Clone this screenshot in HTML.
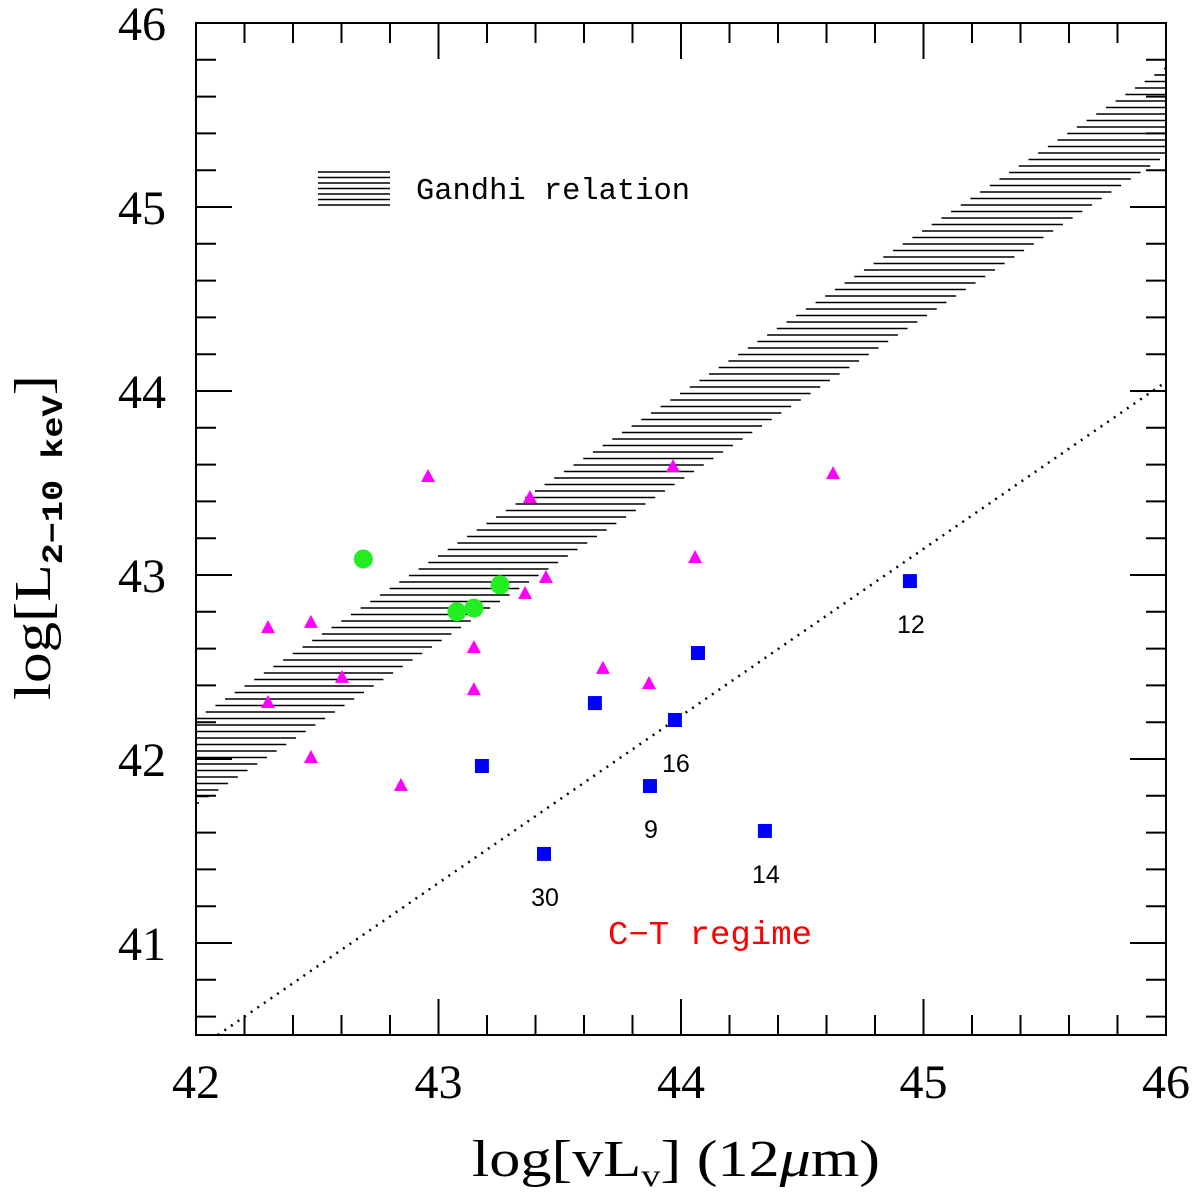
<!DOCTYPE html>
<html><head><meta charset="utf-8"><style>
html,body{margin:0;padding:0;background:#fff;}
svg{display:block;}
</style></head><body>
<svg id="chart" width="1200" height="1196" viewBox="0 0 1200 1196" xmlns="http://www.w3.org/2000/svg">
<defs><clipPath id="plotclip"><rect x="196" y="23" width="970" height="1012"/></clipPath></defs>
<g id="plot" clip-path="url(#plotclip)"></g>
<rect x="196" y="23" width="970" height="1012" fill="none" stroke="#000" stroke-width="2"/>
<g id="ticks"></g>
<g id="labels" font-family="'Liberation Serif', serif" font-size="48" fill="#000"></g>
<text x="472" y="1176" textLength="408" lengthAdjust="spacingAndGlyphs" font-family="'Liberation Serif', serif" font-size="52">log[vL<tspan font-size="32" dy="10">v</tspan><tspan dy="-10">]  (12</tspan><tspan font-style="italic">μ</tspan>m)</text>
<text transform="translate(50,700) rotate(-90)" textLength="325" lengthAdjust="spacingAndGlyphs" font-family="'Liberation Serif', serif" font-size="52">log[L<tspan font-size="30" dy="12" font-family="'Liberation Mono', monospace" font-weight="bold">2−10 keV</tspan><tspan dy="-12">]</tspan></text>
<g>
<g id="legendHatch"></g>
<text x="416" y="199" textLength="274" lengthAdjust="spacingAndGlyphs" font-family="'Liberation Mono', monospace" font-size="31">Gandhi relation</text>
</g>
<text x="608" y="944" textLength="204" lengthAdjust="spacingAndGlyphs" fill="#f00" font-family="'Liberation Mono', monospace" font-size="33">C−T regime</text>
</svg>
<script>
const green = [[42.69,43.087],[43.076,42.80],[43.146,42.82],[43.254,42.946]];
const triX = [42.297,42.474,42.297,42.602,42.474,42.845,42.957,43.146,43.146,43.377,43.357,43.443,43.678,43.868,43.967,44.058,44.627];
const triY = [42.717,42.745,42.310,42.446,42.011,41.859,43.538,42.609,42.380,43.424,42.902,42.989,42.495,42.413,43.592,43.098,43.554];
const sqX = [43.179,43.435,43.645,43.872,43.975,44.070,44.346,44.944];
const sqY = [41.962,41.484,42.304,41.853,42.212,42.576,41.609,42.967];
const sqLabel = ["","30","","9","16","","14","12"];
const xTicks = [42,43,44,45,46];
const yTicks = [41,42,43,44,45,46];
const bandUpper = [[42,42.22],[46,45.76]];
const bandLower = [[42,41.75],[46,45.28]];
const ctLine = [[42.09,40.5],[46,44.05]];

const NS="http://www.w3.org/2000/svg";
const X0=196,X1=1166,Y0=1035,Y1=23;
const xs=v=>X0+(v-42)/4*(X1-X0);
const ys=v=>Y0-(v-40.5)/5.5*(Y0-Y1);
function mk(tag,attrs,parent){const e=document.createElementNS(NS,tag);for(const k in attrs)e.setAttribute(k,attrs[k]);parent.appendChild(e);return e;}
const plot=document.getElementById('plot'),ticks=document.getElementById('ticks'),labels=document.getElementById('labels');

const bandG=mk('g',{},plot);


const interp=(ln,yv)=>ln[0][0]+(yv-ln[0][1])*(ln[1][0]-ln[0][0])/(ln[1][1]-ln[0][1]);
for(let py=Y1;py<=Y0;py+=6.5){
  const yv=40.5+(Y0-py)/(Y0-Y1)*5.5;
  let xl=interp(bandUpper,yv), xr=interp(bandLower,yv);
  xl=Math.max(42,xl); xr=Math.min(46,xr);
  if(xr>xl){const l=mk('line',{x1:xs(xl),x2:xs(xr),y1:py,y2:py,stroke:'#000','stroke-width':1.6},bandG);
  
  }
}
const lh=document.getElementById('legendHatch');
for(let i=0;i<7;i++){mk('line',{x1:318,x2:390,y1:172+i*5.5,y2:172+i*5.5,stroke:'#000','stroke-width':1.6},lh);}

const dl=mk('line',{x1:xs(ctLine[0][0]),y1:ys(ctLine[0][1]),x2:xs(ctLine[1][0]),y2:ys(ctLine[1][1]),stroke:'#000','stroke-width':2.5,'stroke-dasharray':'2,6'},plot);



triX.forEach((x,i)=>{const cx=xs(x),cy=ys(triY[i]);
  const t=mk('polygon',{points:`${cx},${cy-7} ${cx-7},${cy+6} ${cx+7},${cy+6}`,fill:'#ff00ff'},plot);
  
  });
sqX.forEach((x,i)=>{const cx=xs(x),cy=ys(sqY[i]);
  const s=mk('rect',{x:cx-7,y:cy-7,width:14,height:14,fill:'#0000ff'},plot);
  
  
  if(sqLabel[i]){const t=mk('text',{x:cx+1,y:cy+52,'text-anchor':'middle','font-family':"'Liberation Sans', sans-serif",'font-size':25},document.getElementById('chart'));t.textContent=sqLabel[i];
  
  }});
green.forEach(p=>{const c=mk('circle',{cx:xs(p[0]),cy:ys(p[1]),r:9.5,fill:'#22ee22'},plot);
  
  });

for(let v=42;v<=46.001;v+=0.2){const px=xs(v);const major=Math.abs(v-Math.round(v))<0.01;const L=major?36:20;
  mk('line',{x1:px,x2:px,y1:Y0,y2:Y0-L,stroke:'#000','stroke-width':2},ticks);
  mk('line',{x1:px,x2:px,y1:Y1,y2:Y1+L,stroke:'#000','stroke-width':2},ticks);}
for(let v=40.6;v<=46.001;v+=0.2){const py=ys(v);const major=Math.abs(v-Math.round(v))<0.01;const L=major?36:20;
  mk('line',{x1:X0,x2:X0+L,y1:py,y2:py,stroke:'#000','stroke-width':2},ticks);
  mk('line',{x1:X1,x2:X1-L,y1:py,y2:py,stroke:'#000','stroke-width':2},ticks);}
xTicks.forEach(v=>{const t=mk('text',{x:xs(v),y:1098,'text-anchor':'middle'},labels);t.textContent=v;
  
  });
yTicks.forEach(v=>{const t=mk('text',{x:166,y:ys(v)+17,'text-anchor':'end'},labels);t.textContent=v;
  
  });
</script>
</body></html>
